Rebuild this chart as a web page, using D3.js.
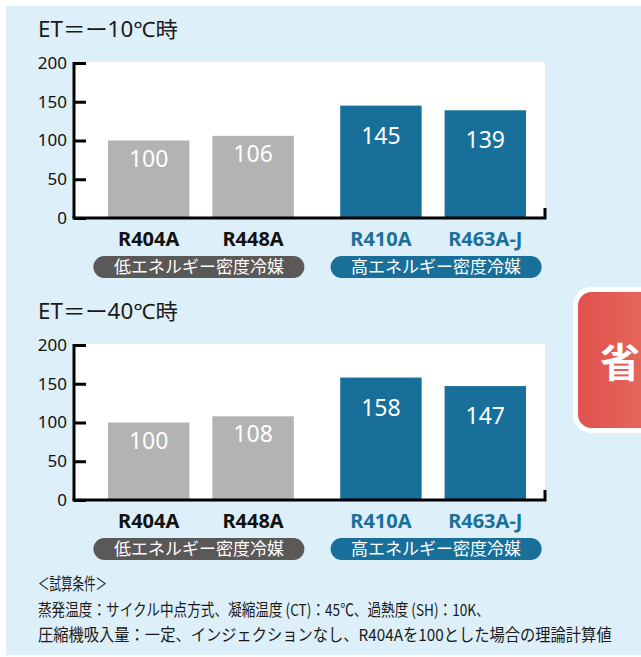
<!DOCTYPE html>
<html>
<head>
<meta charset="utf-8">
<script src="https://cdn.jsdelivr.net/npm/d3@7"></script>
<style>
  body { margin: 0; background: #fff; }
  text { font-family: 'Noto Sans', 'Noto Sans CJK JP', sans-serif; }
  .jp { font-family: 'Noto Sans CJK JP', sans-serif; }
</style>
</head>
<body>
<script>
////////////////////////////////////////////////////////////////////////////////
// DATA
////////////////////////////////////////////////////////////////////////////////
const categories = ['R404A', 'R448A', 'R410A', 'R463A-J'];
const categoryGroup = ['low', 'low', 'high', 'high'];
const groups = ['low', 'high'];
const groupLabels = ['低エネルギー密度冷媒', '高エネルギー密度冷媒'];
const titles = ['ET＝ー10℃時', 'ET＝ー40℃時'];
const valuesMinus10 = [100, 106, 145, 139];
const valuesMinus40 = [100, 108, 158, 147];
const yTicks = [0, 50, 100, 150, 200];
const notes = [
  '＜試算条件＞',
  '蒸発温度：サイクル中点方式、凝縮温度 (CT)：45℃、過熱度 (SH)：10K、',
  '圧縮機吸入量：一定、インジェクションなし、R404Aを100とした場合の理論計算値'
];

const colors = { low: '#b3b3b3', high: '#176f9a' };
const pillColors = { low: '#5b5858', high: '#176f9a' };
const catColors = { low: '#111', high: '#1b6f9c' };
const labelOffset = { low: 26, high: 38 };

////////////////////////////////////////////////////////////////////////////////
// SETUP
////////////////////////////////////////////////////////////////////////////////
const width = 641;
const height = 657;

const svg = d3.select('body').append('svg')
  .attr('width', width)
  .attr('height', height);

svg.append('rect')
  .attr('x', 6).attr('y', 6)
  .attr('width', width).attr('height', 649)
  .attr('fill', '#ddeff9');

// squeeze a text sideways so it spans the given width
function fitWidth(sel, x, y, target) {
  sel.each(function() {
    const natural = this.getComputedTextLength();
    const k = Math.min(1.2, target / natural);
    d3.select(this)
      .attr('x', 0).attr('y', 0)
      .attr('transform', `translate(${x}, ${y}) scale(${k}, 1)`);
  });
}

// x scales shared by both panels
const xGroup = d3.scaleBand()
  .domain(groups)
  .range([108, 526])
  .paddingInner(0.2);

const xInner = d3.scaleBand()
  .domain([0, 1])
  .range([0, xGroup.bandwidth()])
  .paddingInner(0.22);

const barX = i => xGroup(categoryGroup[i]) + xInner(i % 2);
const barCenter = i => barX(i) + xInner.bandwidth() / 2;

function drawPanel(title, values, dy) {
  const g = svg.append('g').attr('transform', `translate(0, ${dy})`);

  g.append('text')
    .attr('font-size', 21)
    .attr('fill', '#1a1a1a')
    .text(title)
    .call(fitWidth, 38, 37, 140);

  const plotLeft = 74, plotRight = 545, plotTop = 62, plotBottom = 218;

  g.append('rect')
    .attr('x', plotLeft).attr('y', plotTop)
    .attr('width', plotRight - plotLeft).attr('height', plotBottom - plotTop)
    .attr('fill', '#fff');

  const y = d3.scaleLinear()
    .domain([0, 200])
    .range([plotBottom, 63]);

  // bars
  g.selectAll('rect.bar').data(values)
    .enter().append('rect')
    .attr('class', 'bar')
    .attr('x', (d, i) => barX(i))
    .attr('width', xInner.bandwidth())
    .attr('y', d => y(d))
    .attr('height', d => y(0) - y(d))
    .attr('fill', (d, i) => colors[categoryGroup[i]]);

  g.selectAll('text.val').data(values)
    .enter().append('text')
    .attr('class', 'val')
    .attr('x', (d, i) => barCenter(i))
    .attr('y', (d, i) => y(d) + labelOffset[categoryGroup[i]])
    .attr('text-anchor', 'middle')
    .attr('font-size', 23)
    .attr('fill', '#fff')
    .text(d => d);

  // y axis
  const yAxis = d3.axisLeft(y)
    .tickValues(yTicks)
    .tickSizeInner(-12)
    .tickSizeOuter(0)
    .tickPadding(7);

  const ya = g.append('g')
    .attr('transform', `translate(${plotLeft}, 0)`)
    .call(yAxis);
  ya.select('.domain').attr('stroke', '#000').attr('stroke-width', 3)
    .attr('d', `M0,${plotTop}V${plotBottom}`);
  ya.selectAll('.tick line').attr('stroke', '#000').attr('stroke-width', 3);
  ya.selectAll('.tick text')
    .attr('font-size', 17)
    .attr('fill', '#111')
    .attr('font-family', "'Noto Sans', sans-serif");

  // x axis baseline with the small end tick
  g.append('path')
    .attr('d', `M${plotLeft - 1.5},${plotBottom}H${plotRight}V${plotBottom - 10}`)
    .attr('fill', 'none')
    .attr('stroke', '#000')
    .attr('stroke-width', 3);

  // category labels
  g.selectAll('text.cat').data(categories)
    .enter().append('text')
    .attr('class', 'cat')
    .attr('x', (d, i) => barCenter(i))
    .attr('y', 246)
    .attr('text-anchor', 'middle')
    .attr('font-size', 20)
    .attr('font-weight', 700)
    .attr('fill', (d, i) => catColors[categoryGroup[i]])
    .text(d => d);

  // group pills
  const pill = g.selectAll('g.pill').data(groups)
    .enter().append('g')
    .attr('class', 'pill')
    .attr('transform', d => `translate(${xGroup(d) + xGroup.bandwidth() / 2 + (d === 'high' ? 3 : -2)}, 267)`);

  pill.append('rect')
    .attr('x', -105.5).attr('y', -11)
    .attr('width', 211).attr('height', 22)
    .attr('rx', 11)
    .attr('fill', d => pillColors[d]);

  pill.append('text')
    .attr('class', 'jp')
    .attr('text-anchor', 'middle')
    .attr('y', 6)
    .attr('font-size', 17)
    .attr('fill', '#fff')
    .text((d, i) => groupLabels[i]);
}

drawPanel(titles[0], valuesMinus10, 0);
drawPanel(titles[1], valuesMinus40, 282);

// badge on the right
const grad = svg.append('defs').append('linearGradient')
  .attr('id', 'badgeGrad')
  .attr('x1', 0).attr('x2', 1).attr('y1', 0).attr('y2', 0);
grad.append('stop').attr('offset', 0).attr('stop-color', '#e0514e');
grad.append('stop').attr('offset', 1).attr('stop-color', '#e8705f');

svg.append('rect')
  .attr('x', 575.5).attr('y', 289.5)
  .attr('width', 100).attr('height', 141)
  .attr('rx', 16)
  .attr('fill', 'url(#badgeGrad)')
  .attr('stroke', '#fff')
  .attr('stroke-width', 5);

svg.append('text')
  .attr('class', 'jp')
  .attr('x', 620).attr('y', 377)
  .attr('text-anchor', 'middle')
  .attr('font-size', 40)
  .attr('font-weight', 700)
  .attr('fill', '#fff')
  .text('省');

// footnotes
const noteWidths = [69, 452, 574];
svg.selectAll('text.note').data(notes)
  .enter().append('text')
  .attr('class', 'note jp')
  .attr('font-size', 16.5)
  .attr('fill', '#1a1a1a')
  .text(d => d)
  .each(function(d, i) {
    d3.select(this).call(fitWidth, 38, 590 + i * 25.5, noteWidths[i]);
  });
</script>
</body>
</html>
